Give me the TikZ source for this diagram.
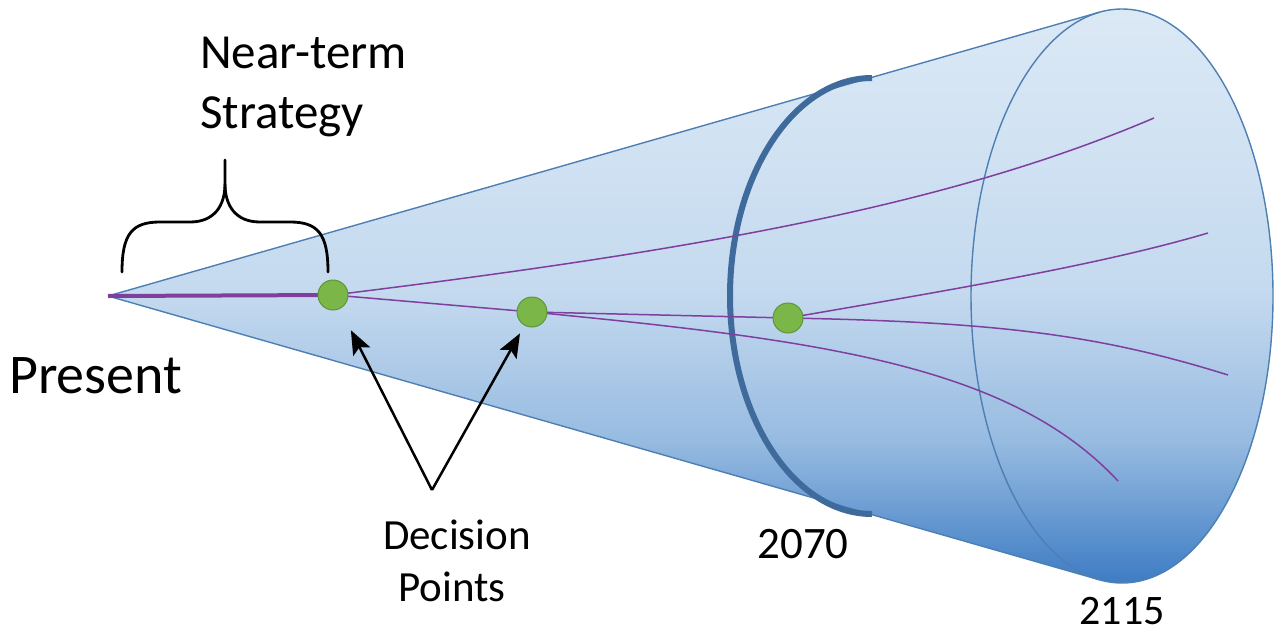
\documentclass[tikz,border=0pt]{standalone}
\usepackage{fontspec}
\setmainfont{Carlito}
\usetikzlibrary{arrows.meta}
\definecolor{conedark}{HTML}{3878C2}
\definecolor{conemid}{HTML}{97BBE1}
\definecolor{conelight}{HTML}{C5DAEF}
\definecolor{conetop}{HTML}{DDEAF6}
\definecolor{edgeblue}{HTML}{4D7FB3}
\definecolor{arcblue}{HTML}{3E6A9C}
\definecolor{purp}{HTML}{7E3F9E}
\definecolor{dotgreen}{HTML}{7AB648}
\definecolor{dotedge}{HTML}{5E9638}
\pgfdeclareverticalshading{conegrad}{100bp}{color(0bp)=(conedark); color(25bp)=(conedark); color(37.5bp)=(conemid); color(50bp)=(conelight); color(75bp)=(conetop); color(100bp)=(conetop)}
\tikzset{
  edge/.style={draw=edgeblue, line width=1.4pt},
  arcseventy/.style={draw=arcblue, line width=6pt},
  path/.style={draw=purp, line width=1.5pt},
  dot/.style={circle, minimum size=30pt, inner sep=0pt, fill=dotgreen, draw=dotedge, line width=1pt},
  arr/.style={draw=black, line width=2.5pt, -{Stealth[length=24pt,width=19pt,inset=5pt]}},
  brace/.style={draw=black, line width=2.8pt, line cap=round, line join=round},
  lbl/.style={inner sep=0pt, text=black},
}
\begin{document}
\begin{tikzpicture}[x=1pt,y=-1pt]
\useasboundingbox (0,0) rectangle (1276,632);
% cone geometry
\coordinate (ap) at (108,296);
\coordinate (tt) at (1099.5,12.2);
\coordinate (tb) at (1099.5,579.8);
\coordinate (ce) at (1122,296);
\path[shading=conegrad] (ap) -- (tt) arc[start angle=98.6, end angle=-98.6, x radius=151pt, y radius=287pt] -- cycle;
\draw[edge] (ap) -- (tt);
\draw[edge] (ap) -- (tb);
\draw[edge] (ce) ellipse[x radius=151pt, y radius=287pt];
% 2070 arc
\coordinate (a70) at (872,78);
\draw[arcseventy] (a70) arc[start angle=90, end angle=270, x radius=142pt, y radius=218pt];
% pathways
\coordinate (c1) at (333,295);
\coordinate (c2) at (532,312);
\coordinate (c3) at (788,318);
\coordinate (e1) at (1154,118);
\coordinate (e2) at (1118,481);
\coordinate (e3) at (1208,233);
\coordinate (e4) at (1228,375);
\draw[draw=purp, line width=4pt] (ap) -- (c1);
\draw[path] (c1) .. controls (700,250) and (950,205) .. (e1);
\draw[path] (c1) -- (c2);
\draw[path] (c2) -- (c3);
\draw[path] (c2) .. controls (820,340) and (1010,365) .. (e2);
\draw[path] (c3) .. controls (950,290) and (1100,265) .. (e3);
\draw[path] (c3) .. controls (1000,322) and (1100,335) .. (e4);
% decision points
\node[dot] (d1) at (c1) {};
\node[dot] (d2) at (c2) {};
\node[dot] (d3) at (c3) {};
% brace
\coordinate (bl) at (122,272);
\coordinate (br) at (328,272);
\coordinate (bt) at (225,160);
\coordinate (bm) at (225,184);
\draw[brace] (bl) .. controls (122,234) and (132,222) .. (160,222) -- (190,222) .. controls (214,222) and (225,206) .. (bm) -- (bt);
\draw[brace] (br) .. controls (328,234) and (318,222) .. (290,222) -- (260,222) .. controls (236,222) and (225,206) .. (bm);
% labels
\node[lbl, anchor=base west, font=\fontsize{49}{59}\selectfont] (nt) at (200,68) {Near-term};
\node[lbl, anchor=base west, font=\fontsize{49}{59}\selectfont] (st) at (200,128) {Strategy};
\node[lbl, anchor=base west, font=\fontsize{56}{66}\selectfont] (pr) at (9,393) {Present};
\node[lbl, anchor=base, font=\fontsize{43}{52}\selectfont] (dc) at (457,549) {Decision};
\node[lbl, anchor=base, font=\fontsize{43}{52}\selectfont] (pt) at (452,601) {Points};
\node[lbl, anchor=base, font=\fontsize{45}{54}\selectfont] (y1) at (803,558) {2070};
\node[lbl, anchor=base, font=\fontsize{42}{50}\selectfont] (y2) at (1122,624) {2115};
% arrows
\coordinate (dp) at (432,490);
\draw[arr, shorten >=24pt] (dp) -- (d1);
\draw[arr, shorten >=9pt] (dp) -- (d2);
\end{tikzpicture}
\end{document}
